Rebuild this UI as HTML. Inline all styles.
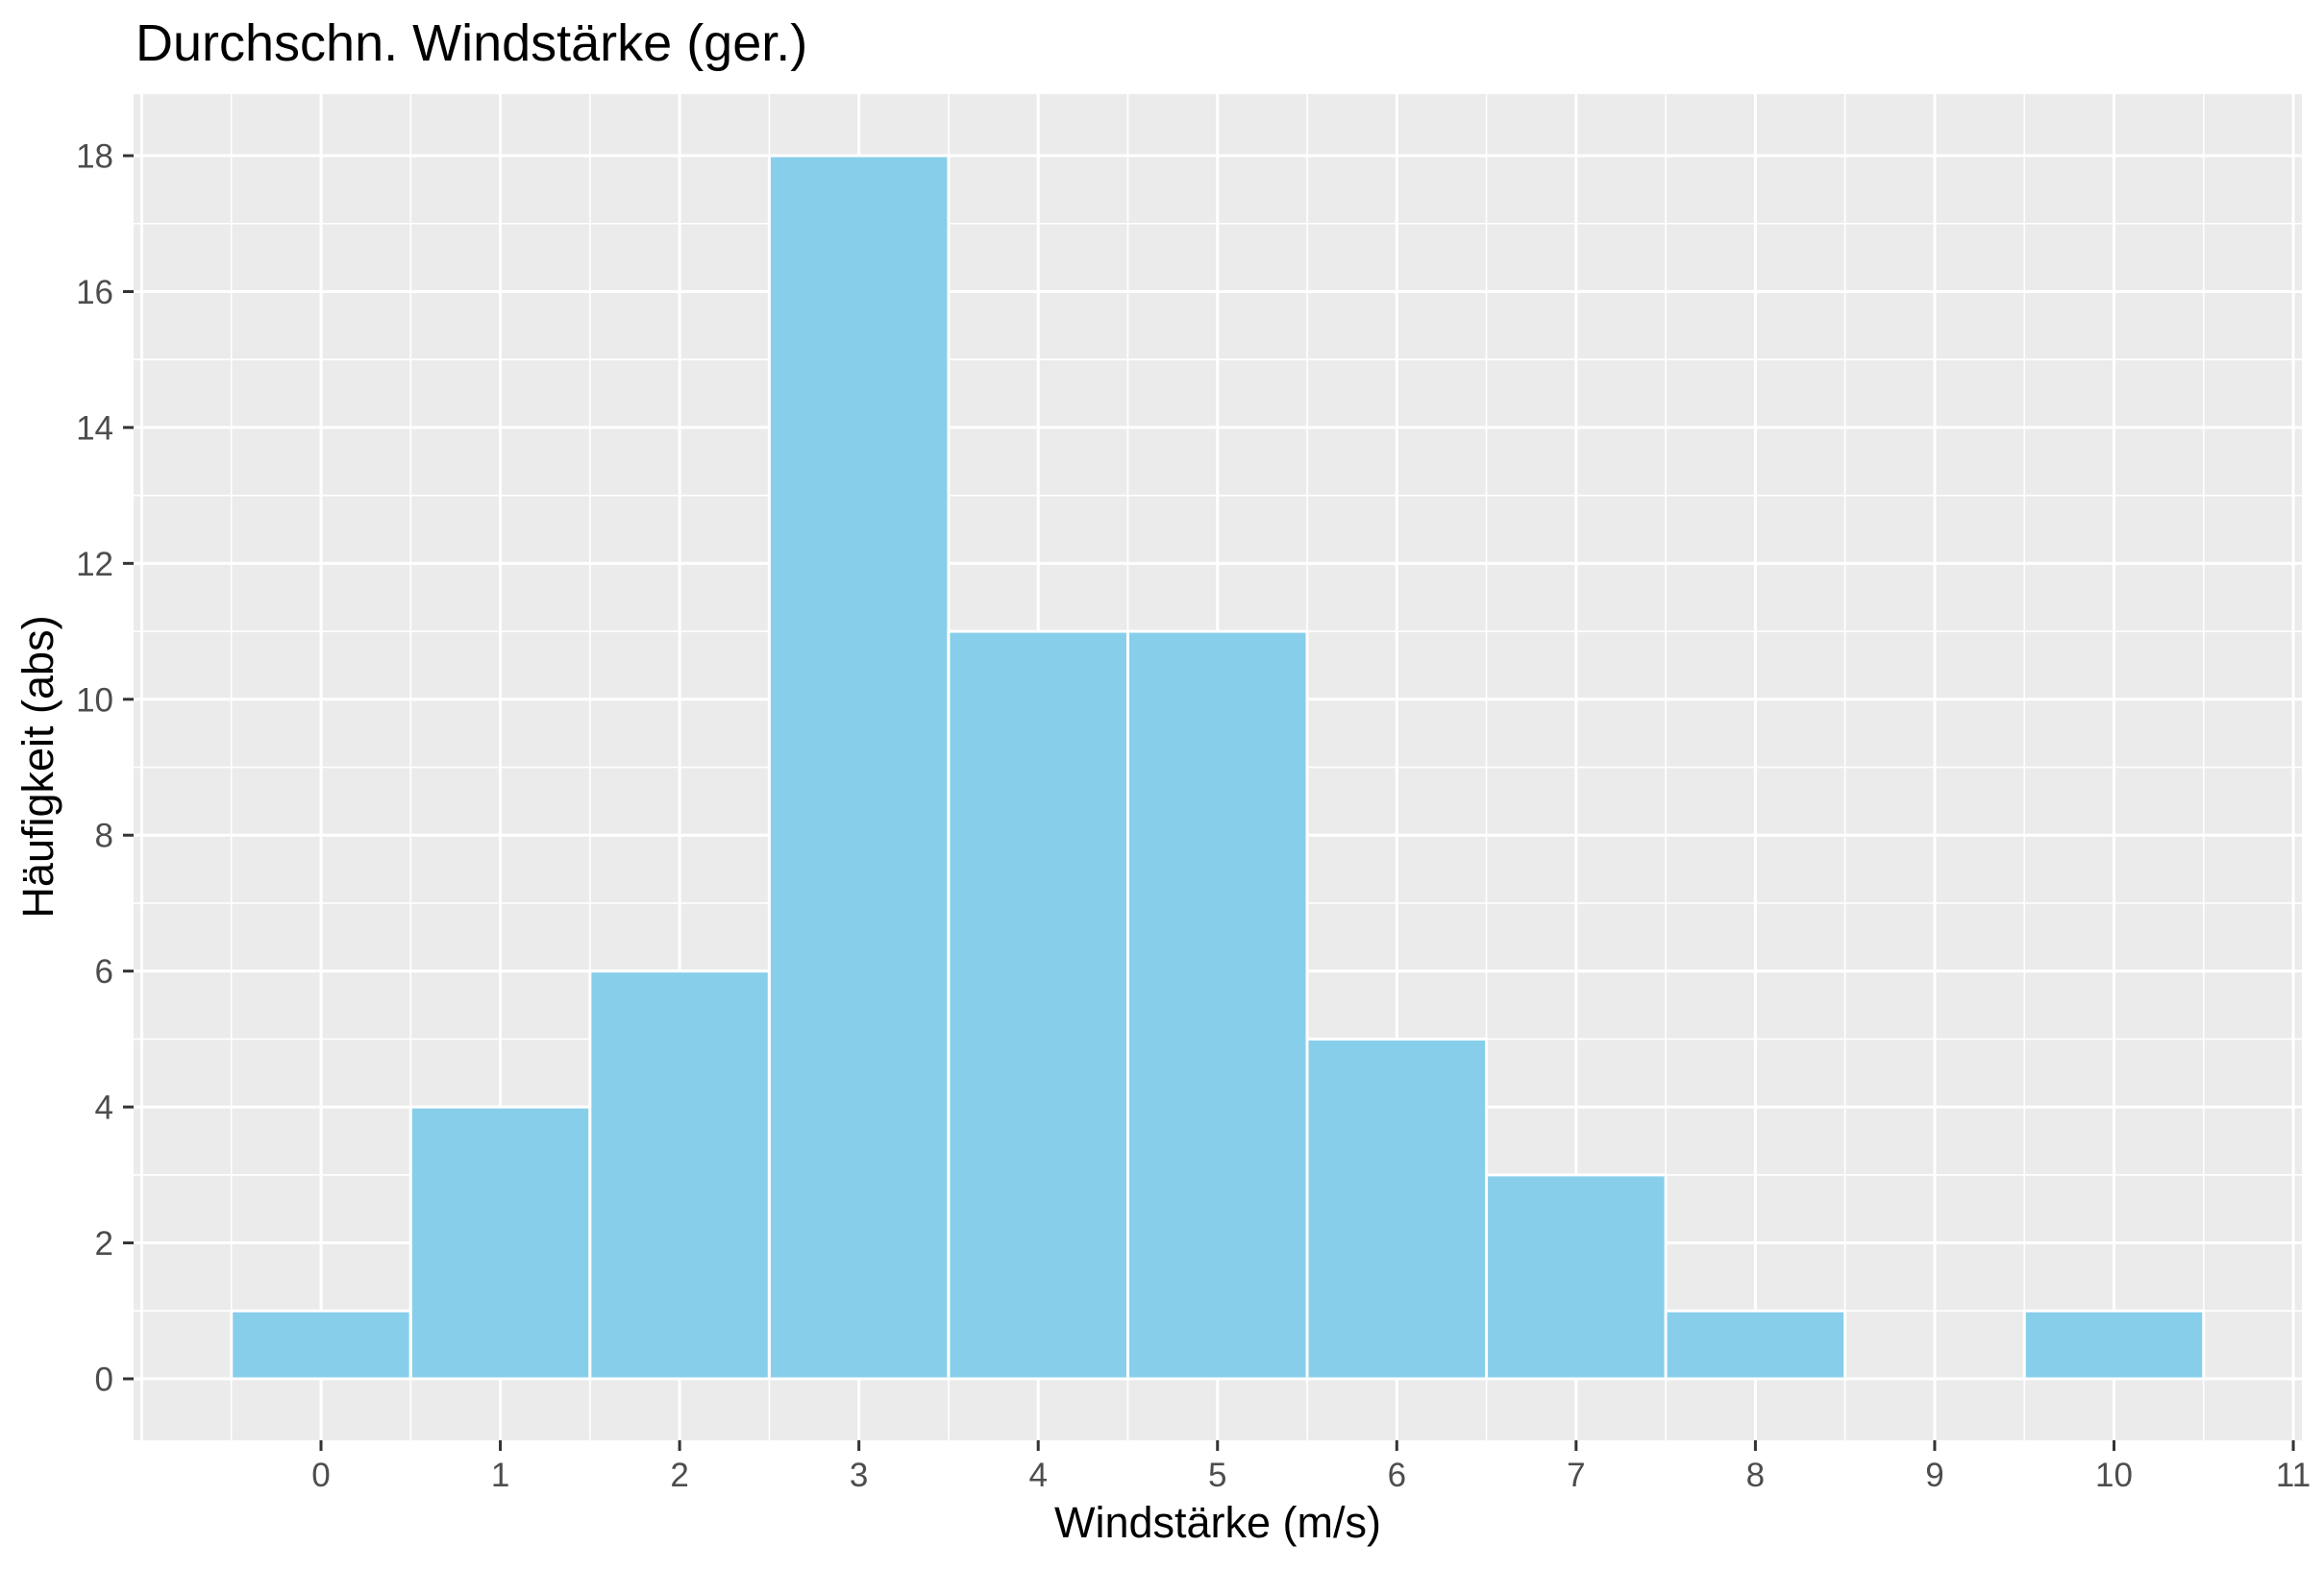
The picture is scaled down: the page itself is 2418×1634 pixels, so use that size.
<!DOCTYPE html>
<html><head><meta charset="utf-8"><style>
html,body{margin:0;padding:0;background:#fff}
svg{display:block;font-family:"Liberation Sans",Arial,sans-serif}
</style></head><body>
<svg id="chart" width="2418" height="1634" viewBox="0 0 2418 1634" xmlns="http://www.w3.org/2000/svg">
<text x="141" y="63" font-size="54" fill="#000">Durchschn. Windstärke (ger.)</text>
<rect x="139" y="98" width="2256" height="1401" fill="#ebebeb"/>
<g id="grid"></g>
<g id="bars"></g>
<g id="axes"></g>
<text x="1267" y="1600" font-size="45" text-anchor="middle" fill="#000">Windstärke (m/s)</text>
<text transform="translate(55,798) rotate(-90)" font-size="45" text-anchor="middle" fill="#000">Häufigkeit (abs)</text>
</svg>
<script>
const binCenters = [0,1,2,3,4,5,6,7,8,9,10];
const counts = [1,4,6,18,11,11,5,3,1,0,1];
const xTicks = [0,1,2,3,4,5,6,7,8,9,10,11];
const yTicks = [0,2,4,6,8,10,12,14,16,18];

const NS = "http://www.w3.org/2000/svg";
const panel = {l:139, r:2395, t:98, b:1499};
const xs = v => 334 + v * 186.55;
const ys = v => 1435 - v * 70.72;
function mk(tag, attrs, parent){
  const e = document.createElementNS(NS, tag);
  for (const k in attrs) e.setAttribute(k, attrs[k]);
  parent.appendChild(e); return e;
}
const grid = document.getElementById('grid');
const bars = document.getElementById('bars');
const axes = document.getElementById('axes');
// minor gridlines
for (let v = -1.5; v <= 11.6; v += 1) {
  const x = xs(v); if (x < panel.l || x > panel.r) continue;
  const l = mk('line', {x1:x, x2:x, y1:panel.t, y2:panel.b, stroke:'#fff', 'stroke-width':1.6}, grid);
  
  
}
for (let v = -1; v <= 19; v += 2) {
  const y = ys(v); if (y < panel.t || y > panel.b) continue;
  const l = mk('line', {x1:panel.l, x2:panel.r, y1:y, y2:y, stroke:'#fff', 'stroke-width':1.6}, grid);
  
  
}
// major gridlines
for (let v = -1; v <= 11; v++) {
  const x = xs(v);
  const l = mk('line', {x1:x, x2:x, y1:panel.t, y2:panel.b, stroke:'#fff', 'stroke-width':3}, grid);
  
  
}
yTicks.forEach(v => {
  const y = ys(v);
  const l = mk('line', {x1:panel.l, x2:panel.r, y1:y, y2:y, stroke:'#fff', 'stroke-width':3}, grid);
  
  
});
// bars
binCenters.forEach((c, i) => {
  if (counts[i] <= 0) return;
  const x0 = xs(c - 0.5), x1 = xs(c + 0.5), y0 = ys(counts[i]), y1 = ys(0);
  const r = mk('rect', {x:x0, y:y0, width:x1-x0, height:y1-y0, fill:'#87ceeb', stroke:'#fff', 'stroke-width':3}, bars);
  
  
});
// x ticks
xTicks.forEach(v => {
  const x = xs(v);
  const t = mk('line', {x1:x, x2:x, y1:panel.b, y2:panel.b+11, stroke:'#333', 'stroke-width':3}, axes);
  
  
  const lb = mk('text', {x:x, y:1547, 'font-size':35, fill:'#4d4d4d', 'text-anchor':'middle'}, axes);
  lb.textContent = v;
  
  
});
yTicks.forEach(v => {
  const y = ys(v);
  const t = mk('line', {x1:panel.l-11, x2:panel.l, y1:y, y2:y, stroke:'#333', 'stroke-width':3}, axes);
  
  
  const lb = mk('text', {x:118, y:y+12.5, 'font-size':35, fill:'#4d4d4d', 'text-anchor':'end'}, axes);
  lb.textContent = v;
  
  
});
</script>
</body></html>
